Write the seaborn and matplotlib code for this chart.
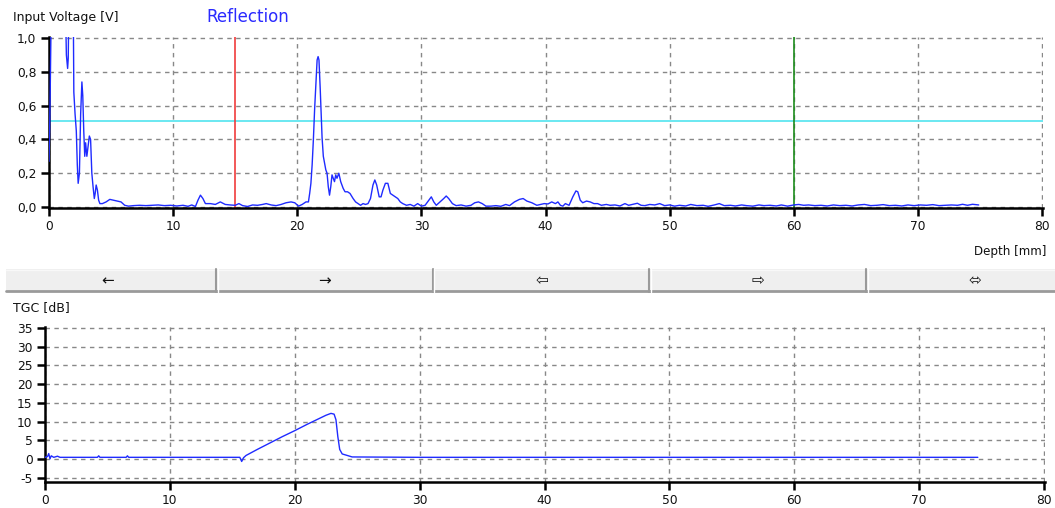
import matplotlib
matplotlib.use("Agg")
import matplotlib.pyplot as plt
import seaborn as sns
from matplotlib.patches import Rectangle
from matplotlib.ticker import FuncFormatter, MultipleLocator

# ---- A-scan: received echo amplitude over depth ----
depth_mm = [
    0.00, 0.05, 0.10, 0.18, 0.25, 0.80, 1.30, 1.40, 1.45, 1.50, 1.55, 1.60, 1.95,
    2.00, 2.10, 2.20, 2.28, 2.35, 2.45, 2.55, 2.65, 2.72, 2.80, 2.88, 2.95, 3.05,
    3.15, 3.25, 3.35, 3.45, 3.55, 3.65, 3.72, 3.80, 3.90, 4.00, 4.10, 4.30, 4.60,
    4.90, 5.20, 5.50, 5.80, 6.10, 6.40, 6.80, 7.30, 7.80, 8.30, 8.80, 9.30, 9.80,
    10.3, 10.8, 11.2, 11.5, 11.8, 12.0, 12.2, 12.4, 12.6, 13.0, 13.4, 13.8, 14.2,
    14.6, 15.0, 15.3, 15.6, 16.0, 16.4, 16.8, 17.2, 17.5, 17.9, 18.3, 18.7, 19.1,
    19.5, 19.8, 20.1, 20.4, 20.7, 20.9, 21.0, 21.1, 21.2, 21.3, 21.4, 21.5, 21.6,
    21.68, 21.75, 21.85, 21.95, 22.0, 22.1, 22.2, 22.3, 22.4, 22.5, 22.6, 22.7,
    22.8, 22.9, 23.0, 23.1, 23.2, 23.35, 23.5, 23.7, 23.85, 24.05, 24.25, 24.5,
    24.7, 24.9, 25.1, 25.3, 25.5, 25.7, 25.9, 26.1, 26.25, 26.4, 26.6, 26.75,
    26.9, 27.1, 27.3, 27.5, 27.7, 27.9, 28.1, 28.3, 28.5, 28.8, 29.1, 29.4, 29.7,
    30.0, 30.3, 30.6, 30.8, 31.0, 31.2, 31.5, 31.8, 32.0, 32.2, 32.5, 32.8, 33.2,
    33.6, 34.0, 34.3, 34.6, 34.9, 35.2, 35.6, 36.0, 36.4, 36.8, 37.1, 37.5, 37.9,
    38.2, 38.5, 38.9, 39.3, 39.6, 39.9, 40.2, 40.5, 40.8, 41.0, 41.2, 41.4, 41.6,
    41.9, 42.2, 42.45, 42.6, 42.8, 43.0, 43.3, 43.6, 43.9, 44.2, 44.5, 44.9, 45.2,
    45.6, 46.0, 46.4, 46.7, 47.0, 47.4, 47.7, 48.0, 48.4, 48.8, 49.2, 49.6, 50.0,
    50.4, 50.8, 51.3, 51.7, 52.2, 52.7, 53.1, 53.6, 54.0, 54.4, 54.9, 55.3, 55.8,
    56.2, 56.7, 57.2, 57.6, 58.1, 58.6, 59.0, 59.5, 60.0, 60.4, 60.8, 61.2, 61.7,
    62.2, 62.7, 63.2, 63.7, 64.2, 64.7, 65.2, 65.7, 66.2, 66.7, 67.2, 67.7, 68.2,
    68.7, 69.2, 69.7, 70.2, 70.7, 71.2, 71.7, 72.2, 72.7, 73.2, 73.6, 74.0, 74.4,
    74.9,
]
voltage_v = [
    0.27, 0.45, 0.70, 1.20, 1.40, 1.50, 1.30, 0.90, 0.86, 0.82, 0.88, 1.20, 1.25,
    0.68, 0.55, 0.45, 0.25, 0.14, 0.20, 0.55, 0.74, 0.66, 0.45, 0.30, 0.38, 0.30,
    0.36, 0.42, 0.40, 0.20, 0.12, 0.05, 0.08, 0.13, 0.10, 0.04, 0.02, 0.02, 0.03,
    0.045, 0.04, 0.035, 0.03, 0.01, 0.005, 0.008, 0.010, 0.008, 0.010, 0.012, 0.008, 0.010,
    0.006, 0.010, 0.004, 0.012, 0.003, 0.04, 0.07, 0.05, 0.02, 0.02, 0.015, 0.03, 0.015,
    0.012, 0.010, 0.02, 0.008, 0.003, 0.012, 0.010, 0.015, 0.02, 0.012, 0.008, 0.015, 0.025,
    0.03, 0.025, 0.005, 0.015, 0.03, 0.03, 0.08, 0.14, 0.25, 0.40, 0.58, 0.73, 0.87,
    0.89, 0.87, 0.70, 0.50, 0.41, 0.30, 0.26, 0.22, 0.20, 0.12, 0.07, 0.12,
    0.19, 0.17, 0.15, 0.19, 0.17, 0.20, 0.15, 0.11, 0.09, 0.09, 0.08, 0.05,
    0.03, 0.02, 0.01, 0.02, 0.015, 0.02, 0.05, 0.13, 0.16, 0.13, 0.06, 0.06,
    0.10, 0.14, 0.14, 0.08, 0.07, 0.06, 0.05, 0.03, 0.02, 0.01, 0.015, 0.005, 0.02,
    0.005, 0.01, 0.04, 0.06, 0.03, 0.01, 0.03, 0.05, 0.065, 0.05, 0.02, 0.008, 0.012,
    0.005, 0.01, 0.025, 0.03, 0.02, 0.005, 0.005, 0.008, 0.004, 0.015, 0.008, 0.03, 0.045,
    0.05, 0.035, 0.025, 0.01, 0.015, 0.02, 0.018, 0.03, 0.02, 0.03, 0.01, 0.005, 0.02,
    0.01, 0.06, 0.095, 0.09, 0.04, 0.025, 0.035, 0.03, 0.02, 0.02, 0.01, 0.015, 0.01,
    0.012, 0.006, 0.02, 0.01, 0.015, 0.022, 0.01, 0.008, 0.015, 0.012, 0.02, 0.008, 0.012,
    0.005, 0.01, 0.006, 0.015, 0.008, 0.01, 0.004, 0.012, 0.02, 0.008, 0.01, 0.006, 0.012,
    0.008, 0.005, 0.012, 0.008, 0.01, 0.006, 0.012, 0.005, 0.012, 0.015, 0.01, 0.012, 0.008,
    0.01, 0.006, 0.012, 0.008, 0.01, 0.006, 0.012, 0.015, 0.008, 0.01, 0.014, 0.008, 0.01,
    0.006, 0.012, 0.008, 0.012, 0.01, 0.014, 0.008, 0.01, 0.012, 0.01, 0.016, 0.01, 0.016,
    0.012,
]

# Gate and threshold settings
gate_start_mm = 15.0
gate_end_mm = 60.0
threshold_v = 0.51

# ---- Time-gain compensation curve ----
tgc_depth_mm = [
    0.0, 0.2, 0.3, 0.4, 0.5, 0.7, 1.0, 1.2, 1.5, 4.2, 4.3, 4.4, 6.5, 6.6, 6.7,
    10.0, 15.0, 15.6, 15.75, 15.9, 16.1, 17.0, 18.0, 19.0, 20.0, 21.0, 22.0,
    22.5, 22.9, 23.15, 23.3, 23.45, 23.6, 23.8, 24.2, 24.6, 30.0, 40.0, 50.0,
    60.0, 70.0, 74.7,
]
tgc_db = [
    0.5, 0.7, 1.5, 0.1, 0.9, 0.5, 0.8, 0.5, 0.5, 0.5, 0.9, 0.5, 0.5, 0.9, 0.5,
    0.5, 0.5, 0.5, -0.6, 0.4, 1.0, 2.6, 4.3, 6.0, 7.6, 9.3, 10.9,
    11.7, 12.2, 12.0, 10.5, 6.0, 2.6, 1.4, 1.0, 0.6, 0.5, 0.5, 0.5,
    0.5, 0.5, 0.5,
]

x_ticks = [0, 10, 20, 30, 40, 50, 60, 70, 80]
volt_ticks = [0.0, 0.2, 0.4, 0.6, 0.8, 1.0]
tgc_ticks = [-5, 0, 5, 10, 15, 20, 25, 30, 35]
button_glyphs = ["\u2190", "\u2192", "\u21e6", "\u21e8", "\u2b04"]

sns.set_theme(style="white")
plt.rcParams["font.family"] = ["DejaVu Sans"]
plt.rcParams["axes.unicode_minus"] = False

W, H = 1055, 508
fig = plt.figure(figsize=(W / 100, H / 100), dpi=100)


def px_rect(left, top, right, bottom):
    return [left / W, 1 - bottom / H, (right - left) / W, (bottom - top) / H]


ax_top = fig.add_axes(px_rect(49, 37, 1043, 208))
ax_bot = fig.add_axes(px_rect(45, 327, 1045, 482))

signal_color = "#1f2bff"
grid_kw = dict(color="#888888", linestyle=(0, (3.2, 3.2)), linewidth=1.0)

for ax in (ax_top, ax_bot):
    ax.set_facecolor("white")
    ax.grid(True, **grid_kw)
    ax.set_axisbelow(True)
    for side in ("top", "right"):
        ax.spines[side].set_visible(False)
    for side in ("left", "bottom"):
        ax.spines[side].set_color("black")
        ax.spines[side].set_linewidth(1.8)
    ax.tick_params(axis="both", which="major", direction="out", length=6,
                   width=1.8, color="black", labelsize=8.8, labelcolor="#111111",
                   left=True, bottom=True, pad=3)
    ax.set_xlim(0, 80.08)
    ax.xaxis.set_major_locator(MultipleLocator(10))
    ax.set_xlabel("")
    ax.set_ylabel("")

# A-scan panel
ax_top.axhline(threshold_v, color="#5fe6f0", linewidth=1.3, zorder=2)
ax_top.axvline(gate_start_mm, color="#f03c3c", linewidth=1.2, zorder=2)
ax_top.axvline(gate_end_mm, color="#1c8c1c", linewidth=1.2, zorder=2)
sns.lineplot(x=depth_mm, y=voltage_v, ax=ax_top, color=signal_color,
             linewidth=1.0, sort=False, estimator=None, zorder=3)
ax_top.set_ylim(-0.006, 1.006)
ax_top.set_yticks(volt_ticks)
ax_top.set_xticks(x_ticks)
ax_top.yaxis.set_major_formatter(FuncFormatter(lambda v, _: f"{v:.1f}".replace(".", ",")))

# TGC panel
sns.lineplot(x=tgc_depth_mm, y=tgc_db, ax=ax_bot, color=signal_color,
             linewidth=1.0, sort=False, estimator=None, zorder=3)
ax_bot.set_ylim(-6.07, 35.2)
ax_bot.set_yticks(tgc_ticks)
ax_bot.set_xticks(x_ticks)

# Overlay in pixel coordinates for titles and the navigation button strip
ov = fig.add_axes([0, 0, 1, 1], zorder=5)
ov.set_xlim(0, W)
ov.set_ylim(H, 0)
ov.axis("off")
ov.patch.set_alpha(0)

ov.text(13, 17, "Input Voltage [V]", fontsize=9, color="#111111", va="center", ha="left")
ov.text(206, 17, "Reflection", fontsize=12, color="#2a2aff", va="center", ha="left")
ov.text(1046, 252, "Depth [mm]", fontsize=8.6, color="#111111", va="center", ha="right")
ov.text(13, 308, "TGC [dB]", fontsize=9, color="#111111", va="center", ha="left")

btn_top, btn_bot = 269, 292
btn_w = 216.75
for i, glyph in enumerate(button_glyphs):
    x0 = 6 + i * btn_w if i == 0 else i * btn_w
    x1 = (i + 1) * btn_w
    ov.add_patch(Rectangle((x0, btn_top), x1 - x0, btn_bot - btn_top,
                           facecolor="#efefef", edgecolor="none"))
    ov.plot([x0, x1], [btn_top + 0.5, btn_top + 0.5], color="#f8f8f8", lw=1)
    ov.plot([x0, x1], [btn_bot - 1, btn_bot - 1], color="#9a9a9a", lw=2)
    if i > 0:
        ov.plot([x0 - 1, x0 - 1], [btn_top, btn_bot], color="#9a9a9a", lw=1.5)
        ov.plot([x0 + 0.8, x0 + 0.8], [btn_top, btn_bot], color="#ffffff", lw=1)
    ov.text(108 + i * btn_w, 281, glyph, fontsize=11, color="#111111",
            ha="center", va="center")

fig.savefig("out.png", dpi=100)
